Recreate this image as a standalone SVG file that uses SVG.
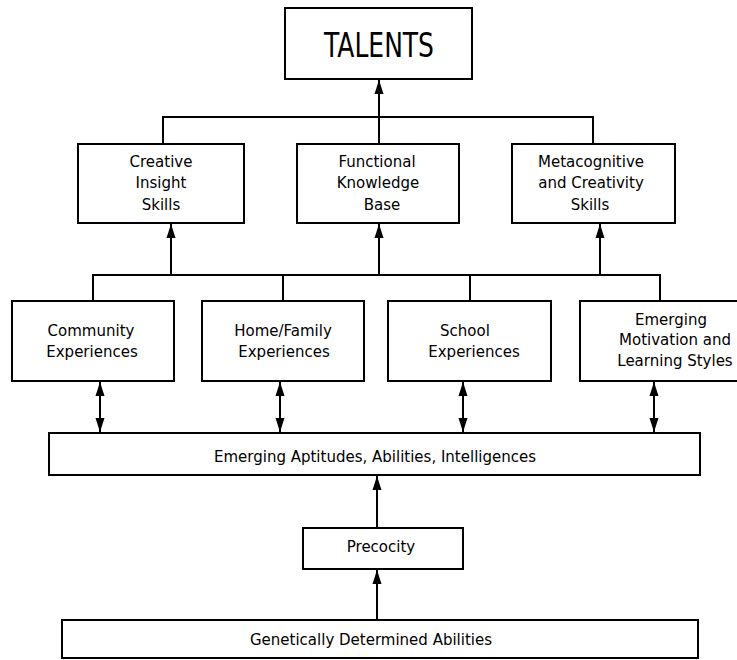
<svg xmlns="http://www.w3.org/2000/svg" width="737" height="660" viewBox="0 0 737 660">
<style>
.box{fill:#fff;stroke:#000;stroke-width:2}
.t{font-family:"DejaVu Sans","Liberation Sans",sans-serif;font-size:15px;fill:#000;text-anchor:middle}
.big{font-family:"DejaVu Sans","Liberation Sans",sans-serif;font-size:34px;fill:#000;text-anchor:middle}
.ln{fill:none;stroke:#000;stroke-width:2}
</style>
<defs>
<marker id="ah" viewBox="0 0 10 14" refX="10" refY="7" markerWidth="10" markerHeight="14" markerUnits="userSpaceOnUse" orient="auto-start-reverse">
<path d="M0,2 L10,7 L0,12 Z" fill="#000"/>
</marker>
<marker id="ahw" viewBox="0 0 14 10" refX="14" refY="5" markerWidth="14" markerHeight="10" markerUnits="userSpaceOnUse" orient="auto-start-reverse">
<path d="M0,0.5 L14,5 L0,9.5 Z" fill="#000"/>
</marker>
</defs>
<g id="connectors">
<path class="ln" d="M379,117 V80" marker-end="url(#ahw)"/>
<path class="ln" d="M163,144 V117 H593 V144 M379,117 V144"/>
<path class="ln" d="M171,275 V224" marker-end="url(#ahw)"/>
<path class="ln" d="M379,275 V224" marker-end="url(#ahw)"/>
<path class="ln" d="M600,275 V224" marker-end="url(#ahw)"/>
<path class="ln" d="M93,301 V275 H660 V301 M283,275 V301 M470,275 V301"/>
<path class="ln" d="M100,382 V432" marker-start="url(#ahw)" marker-end="url(#ahw)"/>
<path class="ln" d="M280,382 V432" marker-start="url(#ahw)" marker-end="url(#ahw)"/>
<path class="ln" d="M463,382 V432" marker-start="url(#ahw)" marker-end="url(#ahw)"/>
<path class="ln" d="M654,382 V432" marker-start="url(#ahw)" marker-end="url(#ahw)"/>
<path class="ln" d="M377,528 V476" marker-end="url(#ahw)"/>
<path class="ln" d="M377,620 V570" marker-end="url(#ahw)"/>
</g>
<g id="talents">
<rect class="box" x="285" y="8" width="187" height="71"/>
<text class="big" x="379" y="57" textLength="110" lengthAdjust="spacingAndGlyphs">TALENTS</text>
</g>
<g id="creative">
<rect class="box" x="78" y="144" width="166" height="79"/>
<text class="t" x="161" y="167">Creative</text>
<text class="t" x="161" y="188">Insight</text>
<text class="t" x="161" y="210">Skills</text>
</g>
<g id="functional">
<rect class="box" x="297" y="144" width="162" height="79"/>
<text class="t" x="377" y="167">Functional</text>
<text class="t" x="378" y="188">Knowledge</text>
<text class="t" x="382" y="210">Base</text>
</g>
<g id="metacognitive">
<rect class="box" x="512" y="144" width="163" height="79"/>
<text class="t" x="591" y="167">Metacognitive</text>
<text class="t" x="591" y="188">and Creativity</text>
<text class="t" x="590" y="210">Skills</text>
</g>
<g id="community">
<rect class="box" x="12" y="301" width="162" height="80"/>
<text class="t" x="91" y="336">Community</text>
<text class="t" x="92" y="357">Experiences</text>
</g>
<g id="home">
<rect class="box" x="202" y="301" width="162" height="80"/>
<text class="t" x="283" y="336">Home/Family</text>
<text class="t" x="284" y="357">Experiences</text>
</g>
<g id="school">
<rect class="box" x="388" y="301" width="163" height="80"/>
<text class="t" x="465" y="336">School</text>
<text class="t" x="474" y="357">Experiences</text>
</g>
<g id="motivation">
<rect class="box" x="580" y="301" width="170" height="80"/>
<text class="t" x="671" y="325">Emerging</text>
<text class="t" x="675" y="345">Motivation and</text>
<text class="t" x="675" y="366">Learning Styles</text>
</g>
<g id="aptitudes">
<rect class="box" x="49" y="433" width="651" height="42"/>
<text class="t" x="375" y="462">Emerging Aptitudes, Abilities, Intelligences</text>
</g>
<g id="precocity">
<rect class="box" x="303" y="528" width="160" height="41"/>
<text class="t" x="381" y="552">Precocity</text>
</g>
<g id="genetic">
<rect class="box" x="62" y="620" width="636" height="38"/>
<text class="t" x="371" y="645">Genetically Determined Abilities</text>
</g>
</svg>
